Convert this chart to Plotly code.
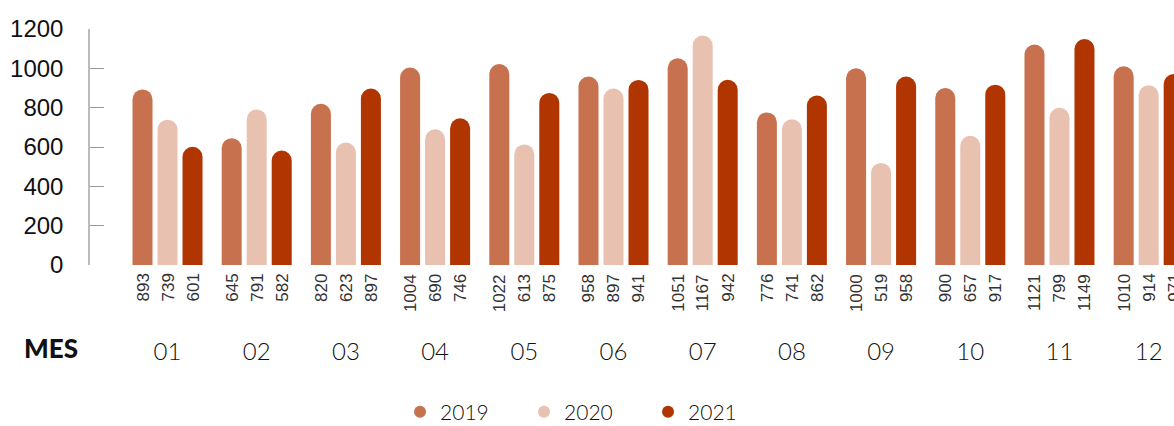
import plotly.graph_objects as go

months = ["01", "02", "03", "04", "05", "06", "07", "08", "09", "10", "11", "12"]
years = ["2019", "2020", "2021"]
v2019 = [893, 645, 820, 1004, 1022, 958, 1051, 776, 1000, 900, 1121, 1010]
v2020 = [739, 791, 623, 690, 613, 897, 1167, 741, 519, 657, 799, 914]
v2021 = [601, 582, 897, 746, 875, 941, 942, 862, 958, 917, 1149, 971]
colors = ["#C8714E", "#E8C1B1", "#B03500"]
series = [v2019, v2020, v2021]

fig = go.Figure()
for name, vals, col in zip(years, series, colors):
    fig.add_trace(go.Bar(x=months, y=vals, name=name, marker=dict(color=col, line=dict(width=0)),
                         showlegend=False, hoverinfo="x+y"))
for name, col in zip(years, colors):
    fig.add_trace(go.Scatter(x=[None], y=[None], mode="markers", name=name,
                             marker=dict(symbol="circle", size=15, color=col)))

annotations = []
shifts = [-25, 0, 25]
for vals, sh in zip(series, shifts):
    for i, v in enumerate(vals):
        annotations.append(dict(x=i, y=0, xref="x", yref="y", text=str(v), showarrow=False,
                                textangle=-90, xshift=sh, yshift=-7, yanchor="top", xanchor="center",
                                font=dict(family="Liberation Sans, Arial", size=17, color="#333333")))
annotations.append(dict(x=-0.0627, xref="paper", y=-0.352, yref="paper", text="MES", showarrow=False,
                        xanchor="left", yanchor="middle",
                        font=dict(family="Lato", size=26, color="#111111", weight=900)))

fig.update_layout(
    width=1174, height=426,
    margin=dict(l=90, r=0, t=29, b=161),
    paper_bgcolor="white", plot_bgcolor="white",
    barmode="group", bargap=0.159, bargroupgap=0.2, barcornerradius="50%",
    annotations=annotations,
    legend=dict(orientation="h", x=0.286, xanchor="left", yref="container", y=14 / 426, yanchor="middle",
                font=dict(family="Lato", size=21, color="#111111", weight=300),
                entrywidth=79, entrywidthmode="pixels", itemsizing="constant"),
    xaxis=dict(type="category", range=[-0.869, 11.284], showline=False, showgrid=False,
               ticks="", ticklabelstandoff=70, automargin=False,
               tickfont=dict(family="Lato", size=24, color="#111111", weight=300)),
    yaxis=dict(range=[0, 1200], tickvals=[0, 200, 400, 600, 800, 1000, 1200], showgrid=False,
               zeroline=False, showline=True, linecolor="#BBBBBB", linewidth=1.5,
               ticks="inside", ticklen=14, tickcolor="#999999", tickwidth=1,
               ticklabelstandoff=20, automargin=False,
               tickfont=dict(family="Liberation Sans, Arial", size=24, color="#111111")),
    showlegend=True,
)
fig.write_html("out.html", config={"displayModeBar": False},
               post_script="document.body.style.margin='0';document.body.style.overflow='hidden';")
